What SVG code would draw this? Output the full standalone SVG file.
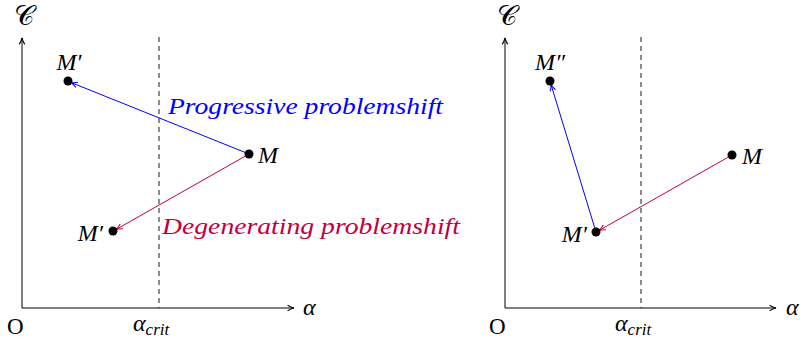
<svg xmlns="http://www.w3.org/2000/svg" width="803" height="340" viewBox="0 0 803 340">
<style>
.ax{stroke:#000;stroke-width:1;fill:none}
.dash{stroke:#000;stroke-width:0.9;stroke-dasharray:5,4;fill:none}
.m{font-family:"Liberation Serif","DejaVu Serif",serif;font-style:italic;font-size:24px;fill:#000}
.c{font-family:"DejaVu Serif","Liberation Serif",serif;font-size:28px;fill:#000}
.r{font-family:"Liberation Serif","DejaVu Serif",serif;font-size:23px;fill:#000}
.blue{stroke:#0000ff;stroke-width:1;fill:none}
.pur{stroke:#bf0040;stroke-width:1;fill:none}
.lb{font-family:"Liberation Serif","DejaVu Serif",serif;font-style:italic;font-size:24px}
</style>
<defs>
<marker id="ak" viewBox="0 0 10 10" refX="9" refY="5" markerWidth="8" markerHeight="8" markerUnits="userSpaceOnUse" orient="auto"><path d="M1,1.5 Q5,4 9,5 Q5,6 1,8.5" fill="none" stroke="#000" stroke-width="1.3"/></marker>
<marker id="ab" viewBox="0 0 10 10" refX="9" refY="5" markerWidth="8" markerHeight="8" markerUnits="userSpaceOnUse" orient="auto"><path d="M1,1.5 Q5,4 9,5 Q5,6 1,8.5" fill="none" stroke="#0000ff" stroke-width="1.3"/></marker>
<marker id="ap" viewBox="0 0 10 10" refX="9" refY="5" markerWidth="8" markerHeight="8" markerUnits="userSpaceOnUse" orient="auto"><path d="M1,1.5 Q5,4 9,5 Q5,6 1,8.5" fill="none" stroke="#bf0040" stroke-width="1.3"/></marker>
</defs>
<g id="left-axes">
<line class="ax" x1="22" y1="308" x2="22" y2="38" marker-end="url(#ak)"/>
<line class="ax" x1="22" y1="308" x2="294" y2="308" marker-end="url(#ak)"/>
<line class="dash" x1="159" y1="37" x2="159" y2="308"/>
<text class="c" x="24" y="25" text-anchor="middle">𝒞</text>
<text class="m" x="303" y="315">α</text>
<text class="r" x="7" y="334">O</text>
<text class="m" x="133" y="331">α<tspan font-size="17" dy="4">crit</tspan></text>
</g>
<g id="connectors-left">
<line class="blue" x1="249" y1="154" x2="71" y2="82.5" marker-end="url(#ab)"/>
<line class="pur" x1="249" y1="154" x2="116" y2="229.5" marker-end="url(#ap)"/>
<text class="lb" x="168" y="114" fill="#0000ff" textLength="275" lengthAdjust="spacingAndGlyphs">Progressive problemshift</text>
<text class="lb" x="162" y="234" fill="#bf0040" textLength="298" lengthAdjust="spacingAndGlyphs">Degenerating problemshift</text>
</g>
<g id="L-Mp1">
<circle cx="68" cy="81" r="4.5" fill="#000"/>
<text class="m" x="69" y="70" text-anchor="middle">M′</text>
</g>
<g id="L-M">
<circle cx="249" cy="154" r="4.5" fill="#000"/>
<text class="m" x="258" y="163">M</text>
</g>
<g id="L-Mp2">
<circle cx="113" cy="231" r="4.5" fill="#000"/>
<text class="m" x="103" y="241" text-anchor="end">M′</text>
</g>
<g id="right-axes">
<line class="ax" x1="505" y1="308" x2="505" y2="38" marker-end="url(#ak)"/>
<line class="ax" x1="505" y1="308" x2="776" y2="308" marker-end="url(#ak)"/>
<line class="dash" x1="641" y1="37" x2="641" y2="308"/>
<text class="c" x="507" y="25" text-anchor="middle">𝒞</text>
<text class="m" x="786" y="315">α</text>
<text class="r" x="489" y="334">O</text>
<text class="m" x="615" y="331">α<tspan font-size="17" dy="4">crit</tspan></text>
</g>
<g id="connectors-right">
<line class="blue" x1="596" y1="232" x2="551" y2="84.5" marker-end="url(#ab)"/>
<line class="pur" x1="732" y1="155" x2="599" y2="230.5" marker-end="url(#ap)"/>
</g>
<g id="R-Mpp">
<circle cx="550" cy="81" r="4.5" fill="#000"/>
<text class="m" x="550" y="70" text-anchor="middle">M″</text>
</g>
<g id="R-M">
<circle cx="732" cy="155" r="4.5" fill="#000"/>
<text class="m" x="742" y="164">M</text>
</g>
<g id="R-Mp">
<circle cx="596" cy="232" r="4.5" fill="#000"/>
<text class="m" x="587" y="242" text-anchor="end">M′</text>
</g>
</svg>
